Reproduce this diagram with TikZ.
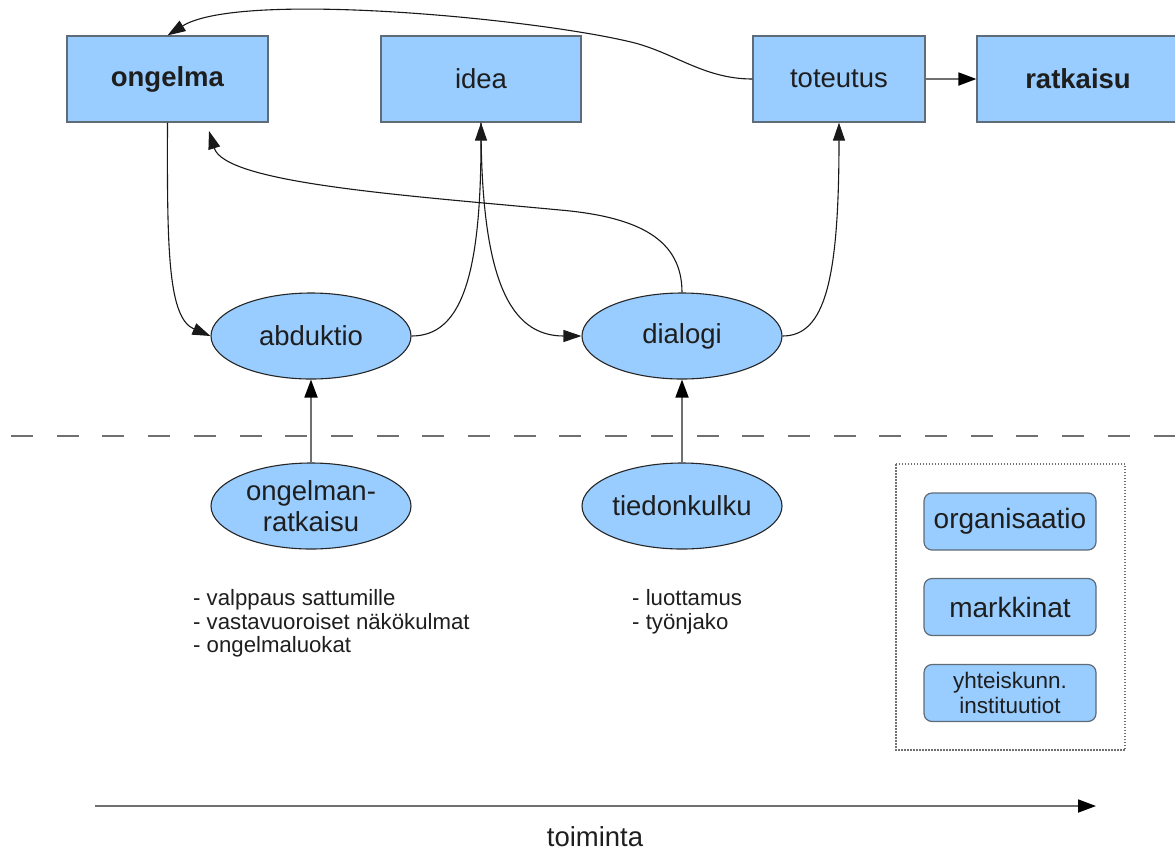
\documentclass[tikz,border=0pt]{standalone}
\usepackage{fontspec}
\setmainfont{Liberation Sans}
\usetikzlibrary{arrows.meta,shapes.geometric}
\definecolor{fillblue}{HTML}{99CCFF}
\definecolor{boxline}{HTML}{5F6B77}
\definecolor{txt}{HTML}{1E1E1E}
\definecolor{greyline}{HTML}{707070}
\tikzset{
  bigfont/.style={font=\fontsize{27.5}{31}\selectfont},
  topbox/.style={rectangle, draw=boxline, line width=1.2pt, fill=fillblue, minimum height=86pt, inner sep=0pt, text=txt, bigfont},
  oval/.style={ellipse, draw=black!85, line width=1.1pt, fill=fillblue, minimum width=200pt, minimum height=86pt, inner sep=0pt, text=txt, align=center, bigfont},
  rbox/.style={rectangle, rounded corners=8pt, draw=boxline, line width=1.2pt, fill=fillblue, minimum width=172pt, minimum height=57pt, inner sep=0pt, text=txt, align=center},
  curvy/.style={draw=black!90, line width=1.1pt, -{Triangle[length=18pt,width=12pt]}},
  straight/.style={draw=greyline, line width=1.8pt, -{Triangle[length=18pt,width=13pt,color=black]}},
  listtext/.style={anchor=west, text=txt, font=\fontsize{22.2}{23.7}\selectfont, align=left, inner sep=0pt},
}
\begin{document}
\begin{tikzpicture}[x=1pt,y=-1pt]
\useasboundingbox (0,0) rectangle (1175,852);
% top boxes
\node[topbox, minimum width=201pt] (ongelma) at (167.5,79) {\textbf{ongelma}};
\node[topbox, minimum width=200pt] (idea) at (481,79) {idea};
\node[topbox, minimum width=172pt] (toteutus) at (839,79) {toteutus};
\node[topbox, minimum width=202pt] (ratkaisu) at (1078,79) {\textbf{ratkaisu}};
% ellipses
\node[oval] (abduktio) at (311,336) {abduktio};
\node[oval] (dialogi) at (682,336) {dialogi};
\node[oval] (ongratk) at (311,506) {ongelman-\\ratkaisu};
\node[oval] (tiedon) at (682,506) {tiedonkulku};
% separator
\draw[greyline, line width=2.5pt, dash pattern=on 22pt off 23.7pt] (11,436) -- (1175,436);
% right group
\draw[greyline, line width=1.2pt, dash pattern=on 1.5pt off 1.5pt] (896,464) rectangle (1125,750);
\node[rbox, font=\fontsize{28}{31}\selectfont] (org) at (1010,521.5) {organisaatio};
\node[rbox, font=\fontsize{28}{31}\selectfont] (mark) at (1010,607) {markkinat};
\node[rbox, font=\fontsize{22.5}{25}\selectfont] (yht) at (1010,693) {yhteiskunn.\\instituutiot};
% lists
\node[listtext] (list1) at (193,623.5) {- valppaus sattumille\\- vastavuoroiset näkökulmat\\- ongelmaluokat};
\node[listtext] (list2) at (632,611.5) {- luottamus\\- työnjako};
% connectors
\coordinate (c1) at (635,43);
\draw[curvy] (toteutus.west) .. controls (705,79) and (676,54) .. (c1)
  .. controls (540,19) and (240,-10) .. (ongelma.north);
\draw[curvy] (ongelma.south) .. controls (167,250) and (168,318) .. (abduktio.west);
\draw[curvy] (abduktio.east) .. controls (460,336) and (481,280) .. (idea.south);
\draw[curvy] (idea.south) .. controls (481,280) and (510,336) .. (dialogi.west);
\coordinate (c2) at (560,210);
\coordinate (tipA) at (209,131);
\draw[curvy] (dialogi.north) .. controls (682,240) and (640,217) .. (c2)
  .. controls (400,195) and (225,183) .. (tipA);
\draw[curvy] (dialogi.east) .. controls (825,336) and (839,280) .. (toteutus.south);
\draw[straight] (toteutus.east) -- (ratkaisu.west);
\draw[straight] (ongratk.north) -- (abduktio.south);
\draw[straight] (tiedon.north) -- (dialogi.south);
% time axis
\coordinate (ts) at (95,806);
\coordinate (te) at (1096,806);
\draw[straight] (ts) -- (te);
\node[text=txt, bigfont, inner sep=0pt] (toiminta) at (595,837) {toiminta};
\end{tikzpicture}
\end{document}
